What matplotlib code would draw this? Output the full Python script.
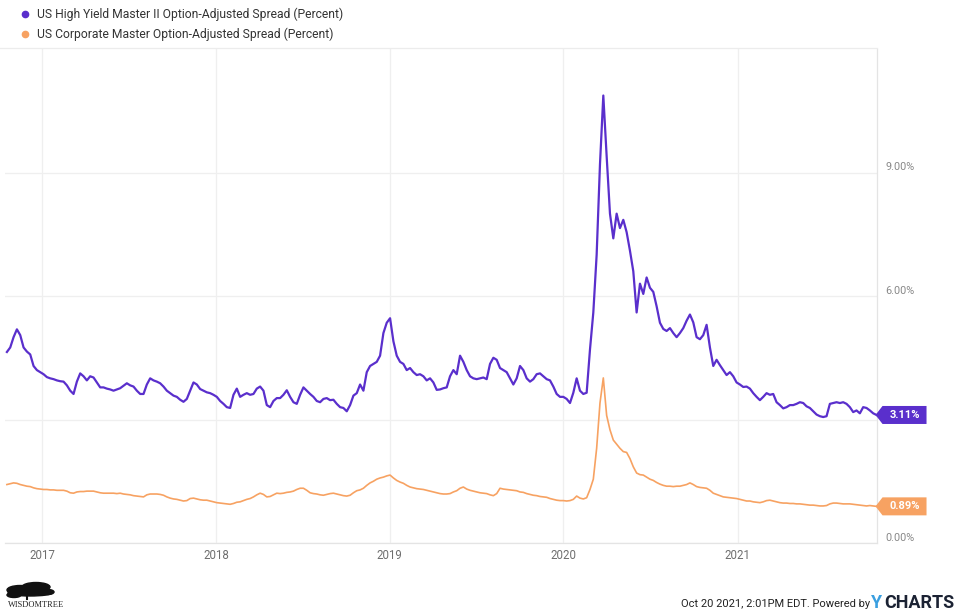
import numpy as np
import pandas as pd
import matplotlib
matplotlib.use("Agg")
import matplotlib.pyplot as plt
import matplotlib.dates as mdates
from matplotlib.patches import Polygon, Ellipse
from matplotlib.lines import Line2D

plt.rcParams["font.family"] = ["Roboto", "DejaVu Sans"]

# weekly readings (Wednesdays), percent
hy_2016 = [4.64, 4.75, 5.00, 5.19, 5.05, 4.75, 4.65, 4.58, 4.30, 4.20, 4.15]
hy_2017 = [4.10, 4.03, 4.00, 3.98, 3.95, 3.93, 3.92, 3.83, 3.70, 3.62, 3.92, 4.12, 4.05,
           3.95, 4.05, 4.02, 3.90, 3.78, 3.78, 3.75, 3.73, 3.70, 3.73, 3.76, 3.82, 3.88,
           3.83, 3.80, 3.70, 3.62, 3.62, 3.85, 4.00, 3.95, 3.92, 3.88, 3.80, 3.70, 3.64,
           3.58, 3.55, 3.48, 3.43, 3.50, 3.70, 3.90, 3.85, 3.74, 3.70, 3.66, 3.64, 3.60]
hy_2018 = [3.55, 3.45, 3.38, 3.30, 3.28, 3.60, 3.75, 3.55, 3.60, 3.64, 3.60, 3.62, 3.75,
           3.80, 3.70, 3.35, 3.30, 3.45, 3.52, 3.52, 3.60, 3.71, 3.55, 3.42, 3.38, 3.60,
           3.78, 3.70, 3.62, 3.55, 3.45, 3.42, 3.50, 3.52, 3.47, 3.48, 3.38, 3.30, 3.28,
           3.20, 3.35, 3.58, 3.64, 3.85, 3.70, 4.15, 4.30, 4.35, 4.40, 4.55, 5.10, 5.35]
hy_2019 = [5.46, 4.90, 4.55, 4.40, 4.35, 4.20, 4.25, 4.15, 4.08, 4.10, 4.05, 3.95, 4.00,
           3.90, 3.72, 3.73, 3.76, 3.78, 4.05, 4.20, 4.10, 4.55, 4.40, 4.20, 4.05, 4.00,
           3.98, 4.00, 4.02, 3.98, 4.35, 4.50, 4.45, 4.25, 4.20, 4.15, 4.00, 3.85, 4.00,
           4.30, 4.20, 4.00, 3.92, 3.98, 4.10, 4.12, 4.05, 3.98, 3.95, 3.80, 3.62, 3.55]
hy_2020 = [3.55, 3.50, 3.40, 3.65, 4.00, 3.70, 3.62, 3.65, 4.70, 5.60, 7.00, 9.20, 10.87,
           9.40, 8.00, 7.40, 8.00, 7.65, 7.85, 7.55, 7.10, 6.60, 5.60, 6.30, 6.05, 6.45,
           6.20, 6.10, 5.75, 5.35, 5.20, 5.15, 5.22, 5.10, 5.00, 5.10, 5.22, 5.40, 5.55,
           5.36, 5.00, 4.95, 5.05, 5.30, 4.75, 4.30, 4.45, 4.32, 4.20, 4.08, 4.15, 4.05,
           3.90]
hy_2021 = [3.85, 3.79, 3.80, 3.75, 3.64, 3.55, 3.47, 3.55, 3.64, 3.60, 3.62, 3.42, 3.35,
           3.27, 3.30, 3.35, 3.35, 3.38, 3.42, 3.40, 3.32, 3.28, 3.20, 3.12, 3.08, 3.06,
           3.08, 3.38, 3.40, 3.42, 3.40, 3.42, 3.38, 3.30, 3.18, 3.22, 3.15, 3.30, 3.28,
           3.22, 3.15, 3.11]

ig_2016 = [1.42, 1.44, 1.46, 1.45, 1.42, 1.40, 1.38, 1.37, 1.34, 1.32, 1.31]
ig_2017 = [1.30, 1.30, 1.29, 1.29, 1.28, 1.28, 1.28, 1.26, 1.22, 1.21, 1.24, 1.25, 1.25,
           1.26, 1.26, 1.26, 1.24, 1.22, 1.21, 1.21, 1.21, 1.21, 1.20, 1.21, 1.19, 1.18,
           1.17, 1.15, 1.14, 1.13, 1.12, 1.17, 1.19, 1.19, 1.19, 1.18, 1.16, 1.12, 1.09,
           1.07, 1.06, 1.04, 1.02, 1.03, 1.08, 1.09, 1.07, 1.05, 1.04, 1.04, 1.02, 1.00]
ig_2018 = [0.98, 0.97, 0.96, 0.95, 0.94, 0.96, 0.99, 1.00, 1.03, 1.06, 1.08, 1.12, 1.17,
           1.21, 1.18, 1.12, 1.13, 1.17, 1.21, 1.20, 1.21, 1.23, 1.24, 1.26, 1.30, 1.33,
           1.33, 1.28, 1.22, 1.20, 1.19, 1.17, 1.16, 1.18, 1.20, 1.21, 1.19, 1.17, 1.15,
           1.14, 1.16, 1.22, 1.27, 1.29, 1.33, 1.40, 1.46, 1.50, 1.55, 1.58, 1.60, 1.63]
ig_2019 = [1.65, 1.58, 1.52, 1.48, 1.45, 1.40, 1.36, 1.34, 1.32, 1.31, 1.30, 1.28, 1.26,
           1.24, 1.22, 1.20, 1.19, 1.19, 1.20, 1.24, 1.27, 1.33, 1.36, 1.31, 1.28, 1.26,
           1.24, 1.22, 1.21, 1.20, 1.17, 1.15, 1.20, 1.33, 1.31, 1.30, 1.29, 1.28, 1.27,
           1.24, 1.23, 1.20, 1.18, 1.16, 1.15, 1.13, 1.12, 1.11, 1.08, 1.06, 1.04, 1.03]
ig_2020 = [1.03, 1.02, 1.03, 1.06, 1.14, 1.09, 1.07, 1.10, 1.30, 1.55, 2.30, 3.40, 4.01,
           3.10, 2.75, 2.50, 2.40, 2.30, 2.22, 2.20, 2.05, 1.85, 1.70, 1.66, 1.65, 1.60,
           1.55, 1.52, 1.47, 1.43, 1.40, 1.38, 1.38, 1.37, 1.38, 1.38, 1.40, 1.42, 1.46,
           1.42, 1.37, 1.35, 1.34, 1.33, 1.28, 1.21, 1.18, 1.15, 1.12, 1.11, 1.10, 1.09,
           1.08]
ig_2021 = [1.06, 1.04, 1.02, 1.02, 1.00, 0.99, 0.98, 1.00, 1.03, 1.04, 1.02, 1.00, 0.98,
           0.97, 0.97, 0.96, 0.96, 0.95, 0.95, 0.94, 0.93, 0.92, 0.92, 0.91, 0.90, 0.90,
           0.91, 0.95, 0.97, 0.97, 0.96, 0.95, 0.95, 0.95, 0.94, 0.93, 0.92, 0.91, 0.90,
           0.91, 0.90, 0.89]

hy = hy_2016 + hy_2017 + hy_2018 + hy_2019 + hy_2020 + hy_2021
ig = ig_2016 + ig_2017 + ig_2018 + ig_2019 + ig_2020 + ig_2021
dates = pd.date_range("2016-10-19", periods=len(hy), freq="7D")

hy_label = "US High Yield Master II Option-Adjusted Spread (Percent)"
ig_label = "US Corporate Master Option-Adjusted Spread (Percent)"
y_ticks = [0, 3, 6, 9]
y_ticklabels = ["0.00%", "", "6.00%", "9.00%"]
years = [2017, 2018, 2019, 2020, 2021]

PURPLE = "#5a2fcc"
ORANGE = "#f7a262"
W, H = 959, 613

fig = plt.figure(figsize=(W / 100, H / 100), dpi=100)
ax = fig.add_axes([5 / W, (H - 543) / H, (877 - 5) / W, (543 - 49) / H])

ax.plot(dates, hy, color=PURPLE, lw=1.6, zorder=3)
ax.plot(dates, ig, color=ORANGE, lw=1.2, zorder=3)

ax.set_xlim(pd.Timestamp("2016-10-15"), pd.Timestamp("2021-10-21"))
ax.set_ylim(0, 12)

ax.set_xticks([pd.Timestamp(f"{y}-01-01") for y in years])
ax.set_xticklabels([str(y) for y in years])
ax.yaxis.tick_right()
ax.set_yticks(y_ticks)
ax.set_yticklabels(y_ticklabels)
plt.setp(ax.get_yticklabels(), va="bottom")
ax.tick_params(axis="x", length=0, pad=4, labelsize=8.3, labelcolor="#6e6e6e")
ax.tick_params(axis="y", length=0, pad=6, labelsize=7.8, labelcolor="#888888")
ax.grid(True, color="#efefef", lw=0.9)
ax.set_axisbelow(True)
for s in ["left", "top"]:
    ax.spines[s].set_visible(False)
for s in ["right", "bottom"]:
    ax.spines[s].set_color("#e4e4e4")
    ax.spines[s].set_linewidth(0.9)

inv = fig.transFigure.inverted()


def tag(date, value, text, color):
    x0, y0 = ax.transData.transform((mdates.date2num(date), value))
    x0 -= 1
    verts = [(x0, y0), (x0 + 7, y0 + 9), (x0 + 51, y0 + 9), (x0 + 51, y0 - 9), (x0 + 7, y0 - 9)]
    fig.add_artist(Polygon(inv.transform(verts), closed=True, facecolor=color,
                           edgecolor="none", transform=fig.transFigure))
    tx, ty = inv.transform((x0 + 29, y0))
    fig.text(tx, ty, text, color="white", fontsize=8, fontweight="bold",
             ha="center", va="center")


tag(dates[-1], hy[-1], f"{hy[-1]:.2f}%", PURPLE)
tag(dates[-1], ig[-1], f"{ig[-1]:.2f}%", ORANGE)

# legend
for yy, col, lab in [(14, PURPLE, hy_label), (34, ORANGE, ig_label)]:
    fig.add_artist(Line2D([25 / W], [1 - yy / H], marker="o", ms=4.5, color=col,
                          lw=0, transform=fig.transFigure))
    fig.text(37 / W, 1 - yy / H, lab, fontsize=8.7, color="#333333", va="center")
fig.add_artist(Line2D([0, 877 / W], [1 - 48 / H] * 2, color="#ececec", lw=0.9,
                      transform=fig.transFigure))

# footer
for cx, cy, w, h in [(20, 590, 26, 9), (36, 587, 28, 9), (30, 593, 44, 6), (14, 595, 14, 5),
                     (48, 592, 12, 5)]:
    fig.add_artist(Ellipse((cx / W, 1 - cy / H), w / W, h / H, color="#111111",
                           transform=fig.transFigure))
fig.add_artist(Line2D([27 / W, 27 / W], [1 - 595 / H, 1 - 599 / H], color="#111111",
                      lw=1.5, transform=fig.transFigure))
fig.text(8 / W, 1 - 605 / H, "WISDOMTREE", fontsize=6, family="Liberation Serif",
         color="#222222", va="center")
fig.text(870 / W, 1 - 604 / H, "Oct 20 2021, 2:01PM EDT. Powered by", fontsize=8,
         color="#222222", ha="right", va="center")
fig.text(871 / W, 1 - 603 / H, "Y", fontsize=13, fontweight="bold", color="#3a9fe0",
         va="center")
fig.text(884 / W, 1 - 603 / H, "CHARTS", fontsize=13, fontweight="bold",
         color="#1b2233", va="center")

fig.savefig("out.png", dpi=100)
